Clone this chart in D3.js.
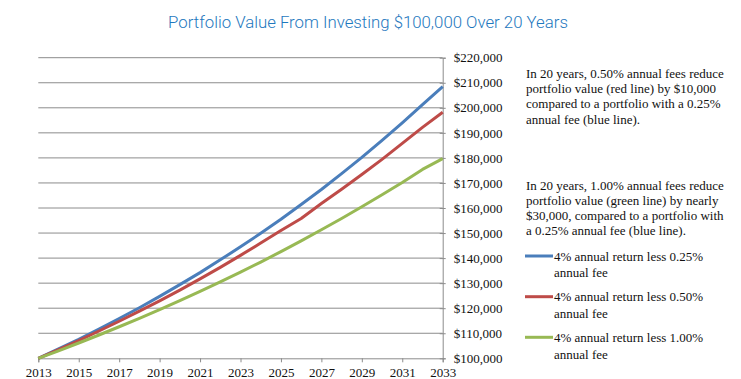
<!DOCTYPE html>
<html>
<head>
<meta charset="utf-8">
<script src="https://cdn.jsdelivr.net/npm/d3@7/dist/d3.min.js"></script>
<style>
  html, body { margin: 0; padding: 0; background: #fff; }
  svg { display: block; }
</style>
</head>
<body>
<svg id="chart" width="741" height="379"></svg>
<script>
const years = [2013,2014,2015,2016,2017,2018,2019,2020,2021,2022,2023,2024,2025,2026,2027,2028,2029,2030,2031,2032,2033];
const fee025 = [100000,103750,107600,111700,115900,120200,124700,129400,134200,139300,144500,149900,155500,161400,167400,173700,180200,187000,194000,201300,208500];
const fee050 = [100000,103500,107100,110900,114800,118800,122900,127200,131700,136300,141100,146000,151000,155800,161800,167500,173400,179400,185800,192200,198200];
const fee100 = [100000,103000,106100,109300,112600,115900,119400,123000,126700,130500,134400,138400,142600,146900,151300,155800,160500,165300,170200,175400,179700];
const yTicks = [100000,110000,120000,130000,140000,150000,160000,170000,180000,190000,200000,210000,220000];
const xTicks = [2013,2015,2017,2019,2021,2023,2025,2027,2029,2031,2033];
const seriesNames = ["4% annual return less 0.25% annual fee","4% annual return less 0.50% annual fee","4% annual return less 1.00% annual fee"];
const seriesColors = ["#4A7EBB","#BE4B48","#98B954"];
const titleText = "Portfolio Value From Investing $100,000 Over 20 Years";
const note1 = ["In 20 years, 0.50% annual fees reduce","portfolio value (red line) by $10,000","compared to a portfolio with a 0.25%","annual fee (blue line)."];
const note2 = ["In 20 years, 1.00% annual fees reduce","portfolio value (green line) by nearly","$30,000, compared to a portfolio with","a 0.25% annual fee (blue line)."];

const svg = d3.select("#chart");
const serif = "Liberation Serif";
const x = d3.scaleLinear().domain([2013,2033]).range([38.3,442.7]);
const y = d3.scaleLinear().domain([100000,220000]).range([358.3,57.7]);

svg.append("text").attr("x",368).attr("y",22).attr("text-anchor","middle")
  .attr("dominant-baseline","central")
  .style("font-family","Roboto, 'Liberation Sans', sans-serif").style("font-weight","300")
  .style("font-size","16.8px").style("fill","#1E78BE").text(titleText);

svg.append("g").selectAll("line").data(yTicks.slice(1)).join("line")
  .attr("x1",x(2013)).attr("x2",x(2033)).attr("y1",d=>y(d)).attr("y2",d=>y(d))
  .attr("stroke","#8C8C8C").attr("stroke-width",1);

const yAxis = d3.axisRight(y).tickValues(yTicks).tickSize(3).tickPadding(8)
  .tickFormat(d=>"$"+d3.format(",")(d));
const gy = svg.append("g").attr("transform",`translate(${x(2033)},0)`).call(yAxis);
gy.attr("font-family",null).attr("font-size",null);
gy.select(".domain").attr("stroke","#8C8C8C");
gy.selectAll(".tick line").attr("stroke","#8C8C8C").attr("x1",-3);
gy.selectAll(".tick text").style("font-family",serif).style("font-size","13px").style("fill","#111");

const xAxis = d3.axisBottom(x).tickValues(xTicks).tickSize(4).tickPadding(5).tickFormat(d3.format("d"));
const gx = svg.append("g").attr("transform",`translate(0,${y(100000)})`).call(xAxis);
gx.attr("font-family",null).attr("font-size",null);
gx.select(".domain").attr("stroke","#8C8C8C");
gx.selectAll(".tick line").attr("stroke","#8C8C8C");
gx.selectAll(".tick text").style("font-family",serif).style("font-size","13px").style("fill","#111");

const line = d3.line().x((d,i)=>x(years[i])).y(d=>y(d));
[fee025,fee050,fee100].forEach((s,k)=>{
  svg.append("path").datum(s).attr("d",line).attr("fill","none")
    .attr("stroke",seriesColors[k]).attr("stroke-width",3).attr("stroke-linejoin","round");
});

function para(lines, y0){
  svg.append("g").selectAll("text").data(lines).join("text")
    .attr("x",526).attr("y",(d,i)=>y0+i*15.2).attr("dominant-baseline","central")
    .style("font-family",serif).style("font-size","13px").style("fill","#111").text(d=>d);
}
para(note1,73.5);
para(note2,185);

const legY = [256,296.7,337.3];
seriesNames.forEach((n,k)=>{
  svg.append("line").attr("x1",525).attr("x2",553).attr("y1",legY[k]).attr("y2",legY[k])
    .attr("stroke",seriesColors[k]).attr("stroke-width",3);
  const words = n.split(" ");
  const l1 = words.slice(0,5).join(" "), l2 = words.slice(5).join(" ");
  svg.append("text").attr("x",554).attr("y",legY[k]).attr("dominant-baseline","central")
    .style("font-family",serif).style("font-size","13px").style("fill","#111").text(l1);
  svg.append("text").attr("x",554).attr("y",legY[k]+16.7).attr("dominant-baseline","central")
    .style("font-family",serif).style("font-size","13px").style("fill","#111").text(l2);
});
</script>
</body>
</html>
